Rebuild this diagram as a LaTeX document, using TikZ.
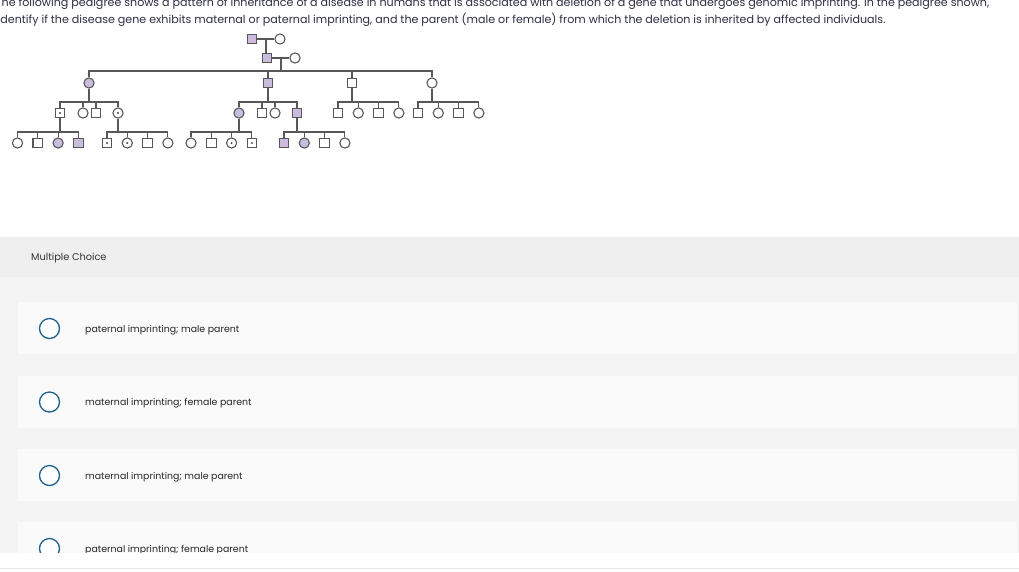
\documentclass[tikz,border=0pt]{standalone}
\usepackage{fontspec}
\setmainfont{Poppins}
\usetikzlibrary{positioning,calc}

\definecolor{lilac}{RGB}{201,188,220}
\definecolor{kin}{RGB}{88,88,88}
\definecolor{ink}{RGB}{45,45,68}
\definecolor{ring}{RGB}{28,96,140}
\definecolor{band}{RGB}{239,239,239}
\definecolor{pane}{RGB}{244,244,244}
\definecolor{card}{RGB}{250,250,250}
\definecolor{rule}{RGB}{232,232,232}

\tikzset{
  male/.style={draw=kin, line width=1.1pt, rectangle, minimum size=9.6pt, inner sep=0pt, fill=white},
  female/.style={draw=kin, line width=1.1pt, circle, minimum size=10.2pt, inner sep=0pt, fill=white},
  hit/.style={fill=lilac},
  carrier/.style={path picture={\fill[kin!80!black] (path picture bounding box.center) circle (1.1pt);}},
  kinline/.style={draw=kin, line width=1.1pt},
  stem/.style={anchor=base west, inner sep=0pt, text=ink, font=\fontsize{11.1}{13}\selectfont},
  optlabel/.style={anchor=base west, inner sep=0pt, text=black!85, font=\fontsize{9.4}{11}\selectfont},
  radio/.style={draw=ring, line width=1.3pt, circle, minimum size=20pt, inner sep=0pt, fill=white}
}

\begin{document}
\begin{tikzpicture}[x=1pt, y=-1pt, node distance=20.3pt, on grid]
    \useasboundingbox (0,0) rectangle (1019,571);
    % page
    \fill[band] (0,237) rectangle (1019,277);
    \fill[pane] (0,277) rectangle (1019,553);
    \fill[card] (18,302) rectangle (1017,354);
    \fill[card] (18,376) rectangle (1017,428);
    \fill[card] (18,449) rectangle (1017,501);
    \fill[card] (18,522) rectangle (1017,553);
    % question
    \node[stem] (q1) at (-4.5,6) {The following pedigree shows a pattern of inheritance of a disease in humans that is associated with deletion of a gene that undergoes genomic imprinting. In the pedigree shown,};
    \node[stem] (q2) at (-2.5,23) {Identify if the disease gene exhibits maternal or paternal imprinting, and the parent (male or female) from which the deletion is inherited by affected individuals.};
    % I
    \node[male, hit] (i1) at (252,39) {};
    \node[female, right = 28pt of i1] (i2) {};
    \draw[kinline] (i1) -- (i2);
    \coordinate (mI) at ($(i1)!0.5!(i2)$);
    % II
    \node[male, hit] (ii1) at (267,58) {};
    \node[female, right = 28pt of ii1] (ii2) {};
    \draw[kinline] (ii1) -- (ii2);
    \draw[kinline] (mI) -- (mI |- ii1.north);
    \coordinate (mII) at ($(ii1)!0.5!(ii2)$);
    % III
    \coordinate (bIII) at (mII |- 0,71);
    \node[female, hit] (iii1) at (89,83) {};
    \node[male, hit] (iii2) at (268,83) {};
    \node[male] (iii3) at (352,83) {};
    \node[female] (iii4) at (432,83) {};
    \draw[kinline] (mII) -- (bIII);
    \draw[kinline] (iii1) |- (bIII) -| (iii4);
    \draw[kinline] (iii2) -- (iii2 |- bIII);
    \draw[kinline] (iii3) -- (iii3 |- bIII);
    % IV, children of iii1
    \node[male, carrier] (iv1) at (60,113) {};
    \node[female, right = 23pt of iv1] (iv2) {};
    \node[male, right = 13pt of iv2] (iv3) {};
    \node[female, carrier, right = 22pt of iv3] (iv4) {};
    \coordinate (bIVa) at (iii1 |- 0,102);
    \draw[kinline] (iii1) -- (bIVa);
    \draw[kinline] (iv1) |- (bIVa) -| (iv4);
    \draw[kinline] (iv2) -- (iv2 |- bIVa);
    \draw[kinline] (iv3) -- (iv3 |- bIVa);
    % IV, children of iii2
    \node[female, hit] (iv5) at (239,113) {};
    \node[male, right = 23pt of iv5] (iv6) {};
    \node[female, right = 13pt of iv6] (iv7) {};
    \node[male, hit, right = 22pt of iv7] (iv8) {};
    \coordinate (bIVb) at (iii2 |- 0,102);
    \draw[kinline] (iii2) -- (bIVb);
    \draw[kinline] (iv5) |- (bIVb) -| (iv8);
    \draw[kinline] (iv6) -- (iv6 |- bIVb);
    \draw[kinline] (iv7) -- (iv7 |- bIVb);
    % IV, children of iii3
    \node[male] (iv9) at (338,113) {};
    \node[female, right = of iv9] (iv10) {};
    \node[male, right = of iv10] (iv11) {};
    \node[female, right = of iv11] (iv12) {};
    \coordinate (bIVc) at (iii3 |- 0,102);
    \draw[kinline] (iii3) -- (bIVc);
    \draw[kinline] (iv9) |- (bIVc) -| (iv12);
    \draw[kinline] (iv10) -- (iv10 |- bIVc);
    \draw[kinline] (iv11) -- (iv11 |- bIVc);
    % IV, children of iii4
    \node[male] (iv13) at (418,113) {};
    \node[female, right = of iv13] (iv14) {};
    \node[male, right = of iv14] (iv15) {};
    \node[female, right = of iv15] (iv16) {};
    \coordinate (bIVd) at (iii4 |- 0,102);
    \draw[kinline] (iii4) -- (bIVd);
    \draw[kinline] (iv13) |- (bIVd) -| (iv16);
    \draw[kinline] (iv14) -- (iv14 |- bIVd);
    \draw[kinline] (iv15) -- (iv15 |- bIVd);
    % V, children of iv1
    \node[female] (v1) at (17.5,143) {};
    \node[male, right = of v1] (v2) {};
    \node[female, hit, right = of v2] (v3) {};
    \node[male, hit, right = of v3] (v4) {};
    \coordinate (bVa) at (iv1 |- 0,132);
    \draw[kinline] (iv1) -- (bVa);
    \draw[kinline] (v1) |- (bVa) -| (v4);
    \draw[kinline] (v2) -- (v2 |- bVa);
    \draw[kinline] (v3) -- (v3 |- bVa);
    % V, children of iv4
    \node[male, carrier] (v5) at (107,143) {};
    \node[female, carrier, right = of v5] (v6) {};
    \node[male, right = of v6] (v7) {};
    \node[female, right = of v7] (v8) {};
    \coordinate (bVb) at (iv4 |- 0,132);
    \draw[kinline] (iv4) -- (bVb);
    \draw[kinline] (v5) |- (bVb) -| (v8);
    \draw[kinline] (v6) -- (v6 |- bVb);
    \draw[kinline] (v7) -- (v7 |- bVb);
    % V, children of iv5
    \node[female] (v9) at (191,143) {};
    \node[male, right = of v9] (v10) {};
    \node[female, carrier, right = of v10] (v11) {};
    \node[male, carrier, right = of v11] (v12) {};
    \coordinate (bVc) at (iv5 |- 0,132);
    \draw[kinline] (iv5) -- (bVc);
    \draw[kinline] (v9) |- (bVc) -| (v12);
    \draw[kinline] (v10) -- (v10 |- bVc);
    \draw[kinline] (v11) -- (v11 |- bVc);
    % V, children of iv8
    \node[male, hit] (v13) at (284,143) {};
    \node[female, hit, right = of v13] (v14) {};
    \node[male, right = of v14] (v15) {};
    \node[female, right = of v15] (v16) {};
    \coordinate (bVd) at (iv8 |- 0,132);
    \draw[kinline] (iv8) -- (bVd);
    \draw[kinline] (v13) |- (bVd) -| (v16);
    \draw[kinline] (v14) -- (v14 |- bVd);
    \draw[kinline] (v15) -- (v15 |- bVd);
    % answers
    \node[optlabel, text=black!80, font=\fontsize{9.8}{11}\selectfont] (mc) at (31,260) {Multiple Choice};
    \node[radio] (o1) at (49.5,328.5) {};
    \node[optlabel] (t1) at (85,332) {paternal imprinting; male parent};
    \node[radio] (o2) at (49.5,402) {};
    \node[optlabel] (t2) at (85,405.5) {maternal imprinting; female parent};
    \node[radio] (o3) at (49.5,475.5) {};
    \node[optlabel] (t3) at (85,479) {maternal imprinting; male parent};
    \node[radio] (o4) at (49.5,548.5) {};
    \node[optlabel] (t4) at (85,552) {paternal imprinting; female parent};
    % cut-off
    \fill[white] (0,553) rectangle (1019,571);
    \draw[rule] (0,568.5) -- (1019,568.5);
\end{tikzpicture}
\end{document}
